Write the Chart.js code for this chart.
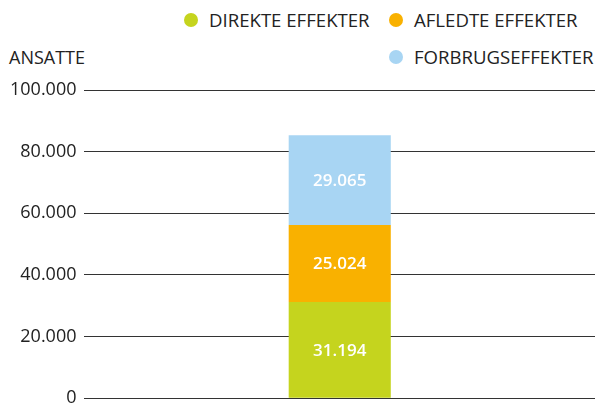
<!DOCTYPE html>
<html>
<head>
<meta charset="utf-8">
<script src="https://cdn.jsdelivr.net/npm/chart.js@4.4.1/dist/chart.umd.min.js"></script>
<style>
  html, body { margin: 0; padding: 0; background: #fff; overflow: hidden; }
  body { width: 598px; height: 405px; position: relative; font-family: "Open Sans", sans-serif; color: #222; }
  #wrap { position: absolute; left: 0; top: 0; width: 598px; height: 417px; }
  .unit { position: absolute; left: 9px; top: 45px; font-size: 18px; line-height: 24px; }
  .leg { position: absolute; font-size: 18.6px; line-height: 24px; white-space: nowrap; }
  .leg i { position: absolute; left: -25px; top: 5px; width: 14px; height: 14px; border-radius: 50%; }
</style>
</head>
<body>
<div class="unit">ANSATTE</div>
<div id="legend"></div>
<div id="wrap"><canvas id="chart"></canvas></div>
<script>
// data
var categories = ["2023"];
var seriesNames = ["DIREKTE EFFEKTER", "AFLEDTE EFFEKTER", "FORBRUGSEFFEKTER"];
var seriesColors = ["#c5d41e", "#f9b100", "#a8d5f3"];
var direkte = [31194];
var afledte = [25024];
var forbrug = [29065];
var yTicks = [0, 20000, 40000, 60000, 80000, 100000];

// legend spots (left of text, top of row)
var legendPos = [[209, 8], [414, 8], [414, 45]];

function fmt(v) {
	return String(Math.round(v)).replace(/\B(?=(\d{3})+(?!\d))/g, ".");
}

var legendBox = document.getElementById("legend");
seriesNames.forEach(function (name, i) {
	var d = document.createElement("div");
	d.className = "leg";
	d.style.left = legendPos[i][0] + "px";
	d.style.top = legendPos[i][1] + "px";
	d.innerHTML = '<i style="background:' + seriesColors[i] + '"></i>' + name;
	legendBox.appendChild(d);
});

// white numbers in the middle of each segment
var barLabels = {
	id: "barLabels",
	afterDatasetsDraw: function (chart) {
		var ctx = chart.ctx;
		ctx.save();
		ctx.fillStyle = "#fff";
		ctx.font = "600 17px 'Open Sans'";
		ctx.textAlign = "center";
		ctx.textBaseline = "middle";
		chart.data.datasets.forEach(function (ds, i) {
			chart.getDatasetMeta(i).data.forEach(function (bar, j) {
				var mid = (bar.y + bar.base) / 2;
				ctx.fillText(fmt(ds.data[j]), bar.x, mid + 1);
			});
		});
		ctx.restore();
	}
};

Chart.defaults.font.family = "'Open Sans', sans-serif";
Chart.defaults.font.size = 18;
Chart.defaults.color = "#222";

new Chart(document.getElementById("chart"), {
	type: "bar",
	data: {
		labels: categories,
		datasets: [
			{ label: seriesNames[0], data: direkte, backgroundColor: seriesColors[0] },
			{ label: seriesNames[1], data: afledte, backgroundColor: seriesColors[1] },
			{ label: seriesNames[2], data: forbrug, backgroundColor: seriesColors[2] }
		]
	},
	options: {
		responsive: true,
		maintainAspectRatio: false,
		animation: false,
		layout: { padding: { top: 90, right: 3, left: 2, bottom: 0 } },
		datasets: { bar: { barPercentage: 0.2, categoryPercentage: 1 } },
		plugins: {
			legend: { display: false },
			tooltip: { enabled: false }
		},
		scales: {
			x: {
				stacked: true,
				display: false
			},
			y: {
				stacked: true,
				min: 0,
				max: 100000,
				afterBuildTicks: function (axis) {
					axis.ticks = yTicks.map(function (v) { return { value: v }; });
				},
				border: { display: false },
				grid: { color: "#333", lineWidth: 1, drawTicks: false },
				ticks: {
					padding: 8,
					callback: function (v) { return fmt(v); }
				}
			}
		}
	},
	plugins: [barLabels]
});
</script>
</body>
</html>
